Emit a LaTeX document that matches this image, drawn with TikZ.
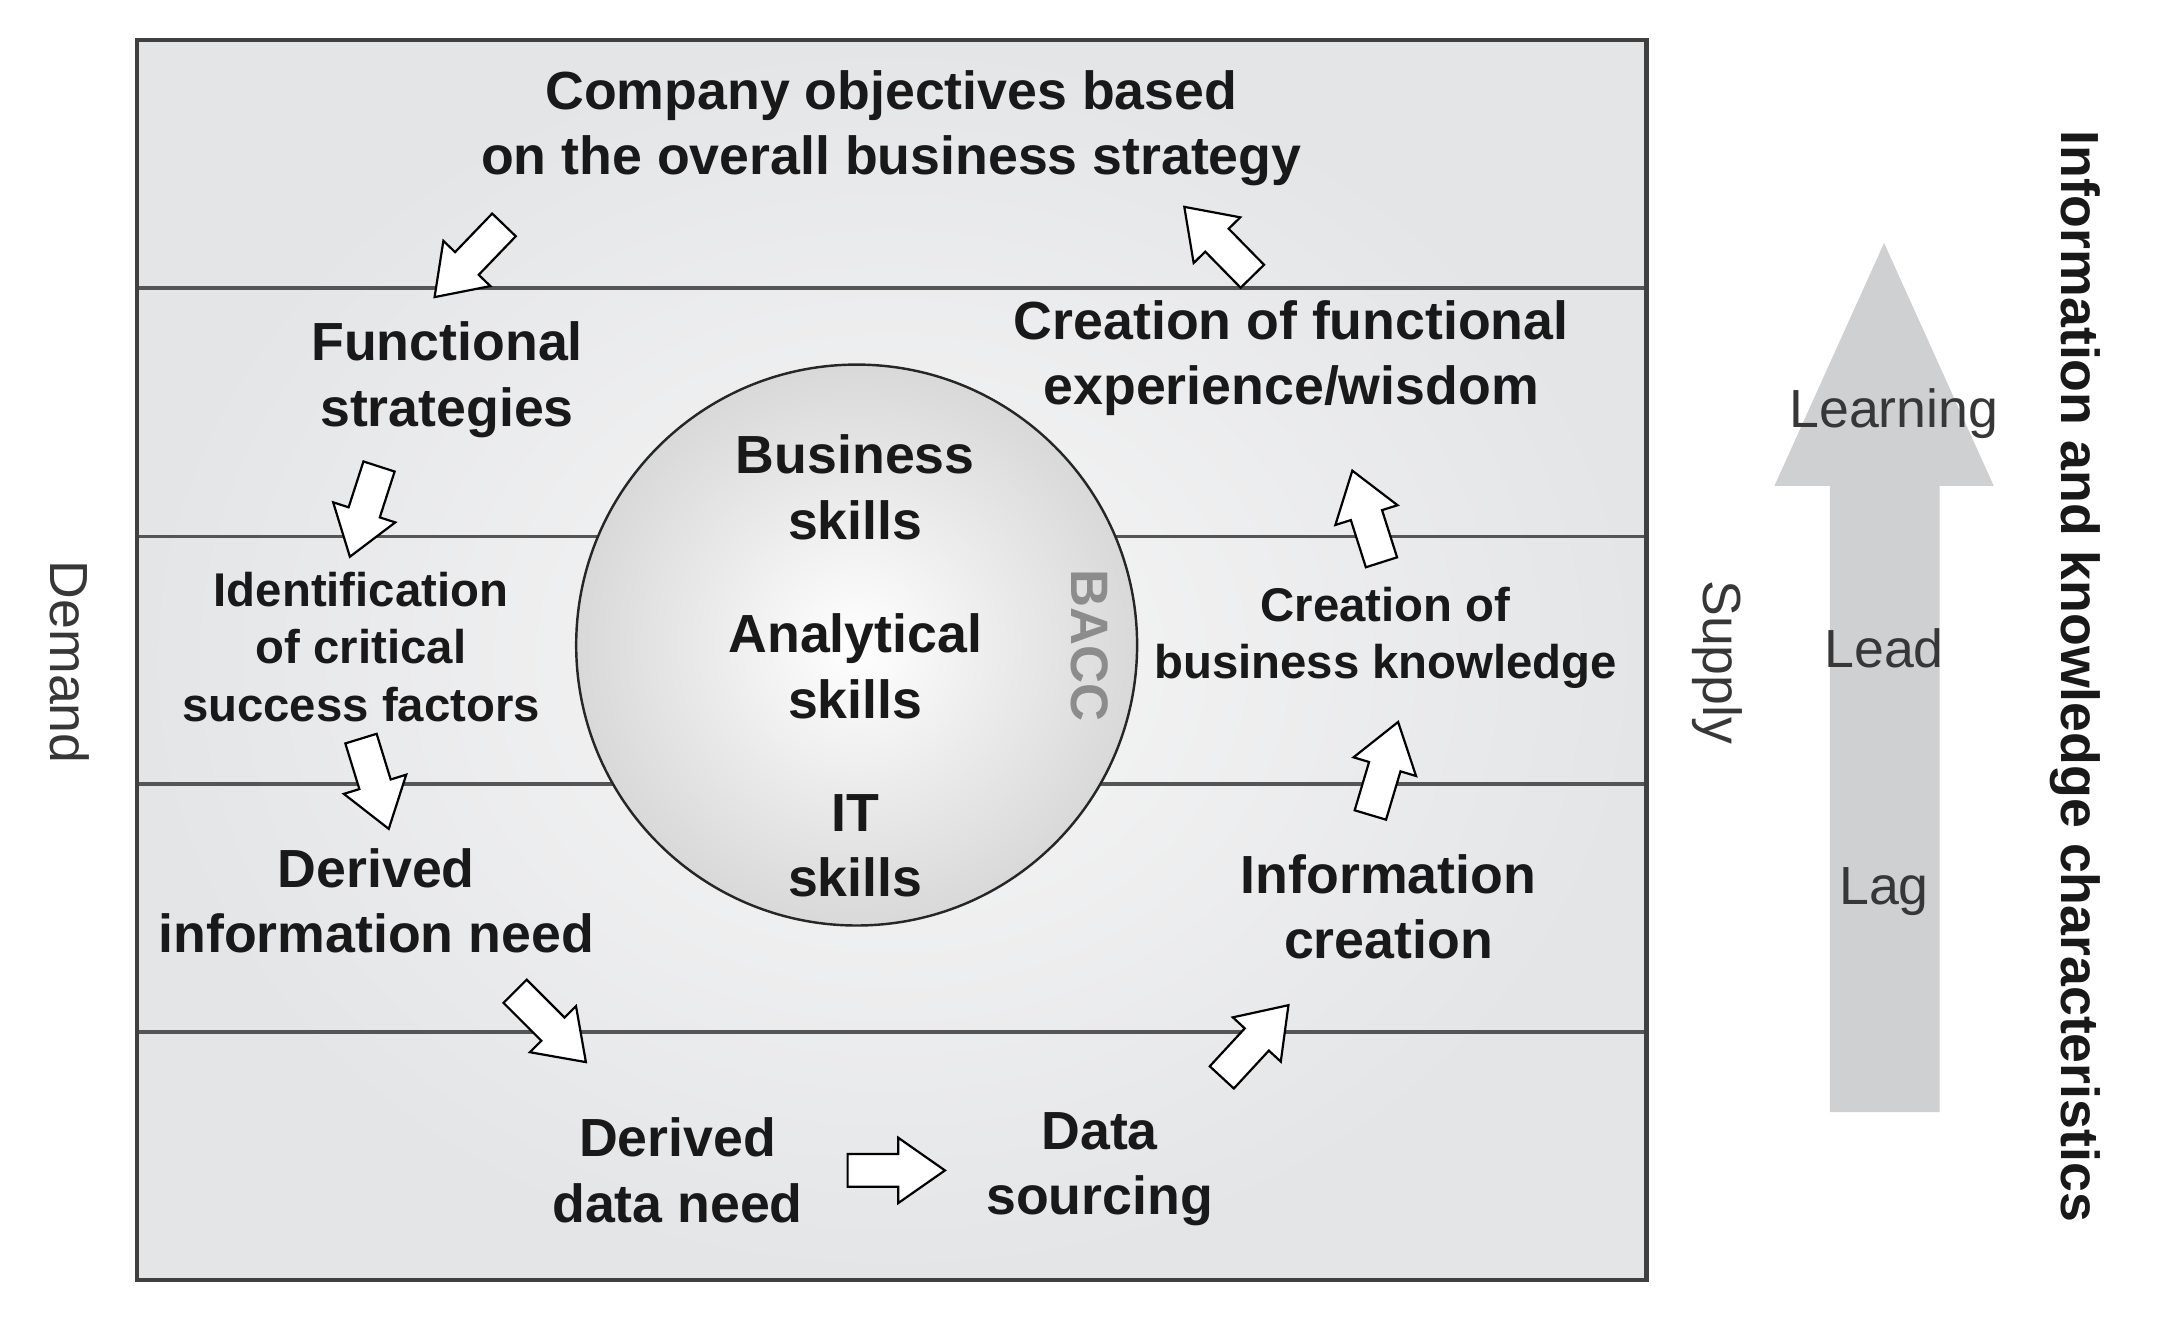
\documentclass[tikz,border=0pt]{standalone}
\usepackage{fontspec}
\setmainfont{Liberation Sans}
\usepackage{tikz}
\usetikzlibrary{calc}
\definecolor{boxmid}{RGB}{247,247,247}
\definecolor{boxedge}{RGB}{228,229,231}
\definecolor{bandline}{RGB}{85,85,85}
\definecolor{bigarrow}{RGB}{207,208,210}
\definecolor{textgray}{RGB}{55,55,55}
\definecolor{baccgray}{RGB}{140,140,140}
\tikzset{
  stage/.style={align=center,inner sep=0pt,font=\fontsize{11}{13.4}\selectfont\bfseries,text=black!90},
  smallstage/.style={align=center,inner sep=0pt,font=\fontsize{9.7}{11.7}\selectfont\bfseries,text=black!90},
  sidelabel/.style={inner sep=0pt,font=\fontsize{11}{13}\selectfont,text=textgray,rotate=-90},
  levellabel/.style={inner sep=0pt,font=\fontsize{11}{13}\selectfont,text=textgray},
  blockarrow/.style={draw=black,fill=white,line width=0.45pt,line join=miter}
}
\newcommand{\fatarrow}[2]{%
  \coordinate (hb) at ($(#2)!0.336cm!(#1)$);
  \draw[blockarrow] ($(#1)!0.118cm!90:(#2)$) -- ($(hb)!0.118cm!90:(#2)$) -- ($(hb)!0.235cm!90:(#2)$)
    -- (#2) -- ($(hb)!0.235cm!-90:(#2)$) -- ($(hb)!0.118cm!-90:(#2)$) -- ($(#1)!0.118cm!-90:(#2)$) -- cycle;
}
\begin{document}
\begin{tikzpicture}
\useasboundingbox (0,0) rectangle (15.68,-9.56);
\shade[inner color=boxmid,outer color=boxedge] (0.985,-0.29) rectangle (11.86,-9.22);
\foreach \y in {2.073,3.864,5.646,7.433}
  \draw[bandline,line width=0.8pt] (0.985,-\y) -- (11.86,-\y);
\draw[black!75,line width=0.9pt] (0.985,-0.29) rectangle (11.86,-9.22);
\node[circle,minimum size=4.04cm,draw=black!85,line width=0.5pt,shade,inner color=white,outer color=gray!30] (skills) at (6.17,-4.646) {};

\node[stage] (company) at (6.42,-0.925) {Company objectives based\\on the overall business strategy};
\node[stage] (functional) at (3.22,-2.735) {Functional\\strategies};
\node[stage] (wisdom) at (9.30,-2.58) {Creation of functional\\experience/wisdom};
\node[smallstage] (csf) at (2.60,-4.66) {Identification\\of critical\\success factors};
\node[smallstage] (knowledge) at (9.98,-4.595) {Creation of\\business knowledge};
\node[stage] (infoneed) at (2.71,-6.49) {Derived\\information need};
\node[stage] (infocreation) at (10.00,-6.53) {Information\\creation};
\node[stage] (dataneed) at (4.88,-8.43) {Derived\\data need};
\node[stage] (sourcing) at (7.92,-8.42) {Data\\sourcing};
\node[stage] (business) at (6.16,-3.51) {Business\\skills};
\node[stage] (analytical) at (6.16,-4.80) {Analytical\\skills};
\node[stage] (it) at (6.16,-6.09) {IT\\skills};
\node[inner sep=0pt,font=\fontsize{10.8}{13}\selectfont\bfseries,text=baccgray,rotate=-90] (bacc) at (7.85,-4.65) {BACC};

\node[sidelabel] (demand) at (0.50,-4.77) {Demand};
\node[sidelabel] (supply) at (12.37,-4.77) {Supply};
\node[inner sep=0pt,font=\fontsize{11}{13}\selectfont\bfseries,text=black!90,rotate=-90] (characteristics) at (14.95,-4.87) {Information and knowledge characteristics};

\fill[bigarrow] (13.18,-8.01) -- (13.18,-3.50) -- (12.78,-3.50) -- (13.57,-1.75) -- (14.36,-3.50) -- (13.97,-3.50) -- (13.97,-8.01) -- cycle;
\node[levellabel] (learning) at (13.64,-2.98) {Learning};
\node[levellabel] (lead) at (13.57,-4.67) {Lead};
\node[levellabel] (lag) at (13.57,-6.42) {Lag};

\coordinate (s1) at (3.63,-1.62);  \coordinate (e1) at (3.13,-2.14);
\coordinate (s2) at (2.73,-3.36);  \coordinate (e2) at (2.52,-4.01);
\coordinate (s3) at (2.60,-5.32);  \coordinate (e3) at (2.80,-5.97);
\coordinate (s4) at (3.71,-7.14);  \coordinate (e4) at (4.22,-7.65);
\coordinate (s5) at (6.105,-8.43); \coordinate (e5) at (6.806,-8.43);
\coordinate (s6) at (8.80,-7.76);  \coordinate (e6) at (9.28,-7.24);
\coordinate (s7) at (9.87,-5.87);  \coordinate (e7) at (10.07,-5.20);
\coordinate (s8) at (9.95,-4.05);  \coordinate (e8) at (9.74,-3.39);
\coordinate (s9) at (9.02,-1.99);  \coordinate (e9) at (8.53,-1.49);
\foreach \i in {1,...,9}
  {\fatarrow{s\i}{e\i}}
\end{tikzpicture}
\end{document}
